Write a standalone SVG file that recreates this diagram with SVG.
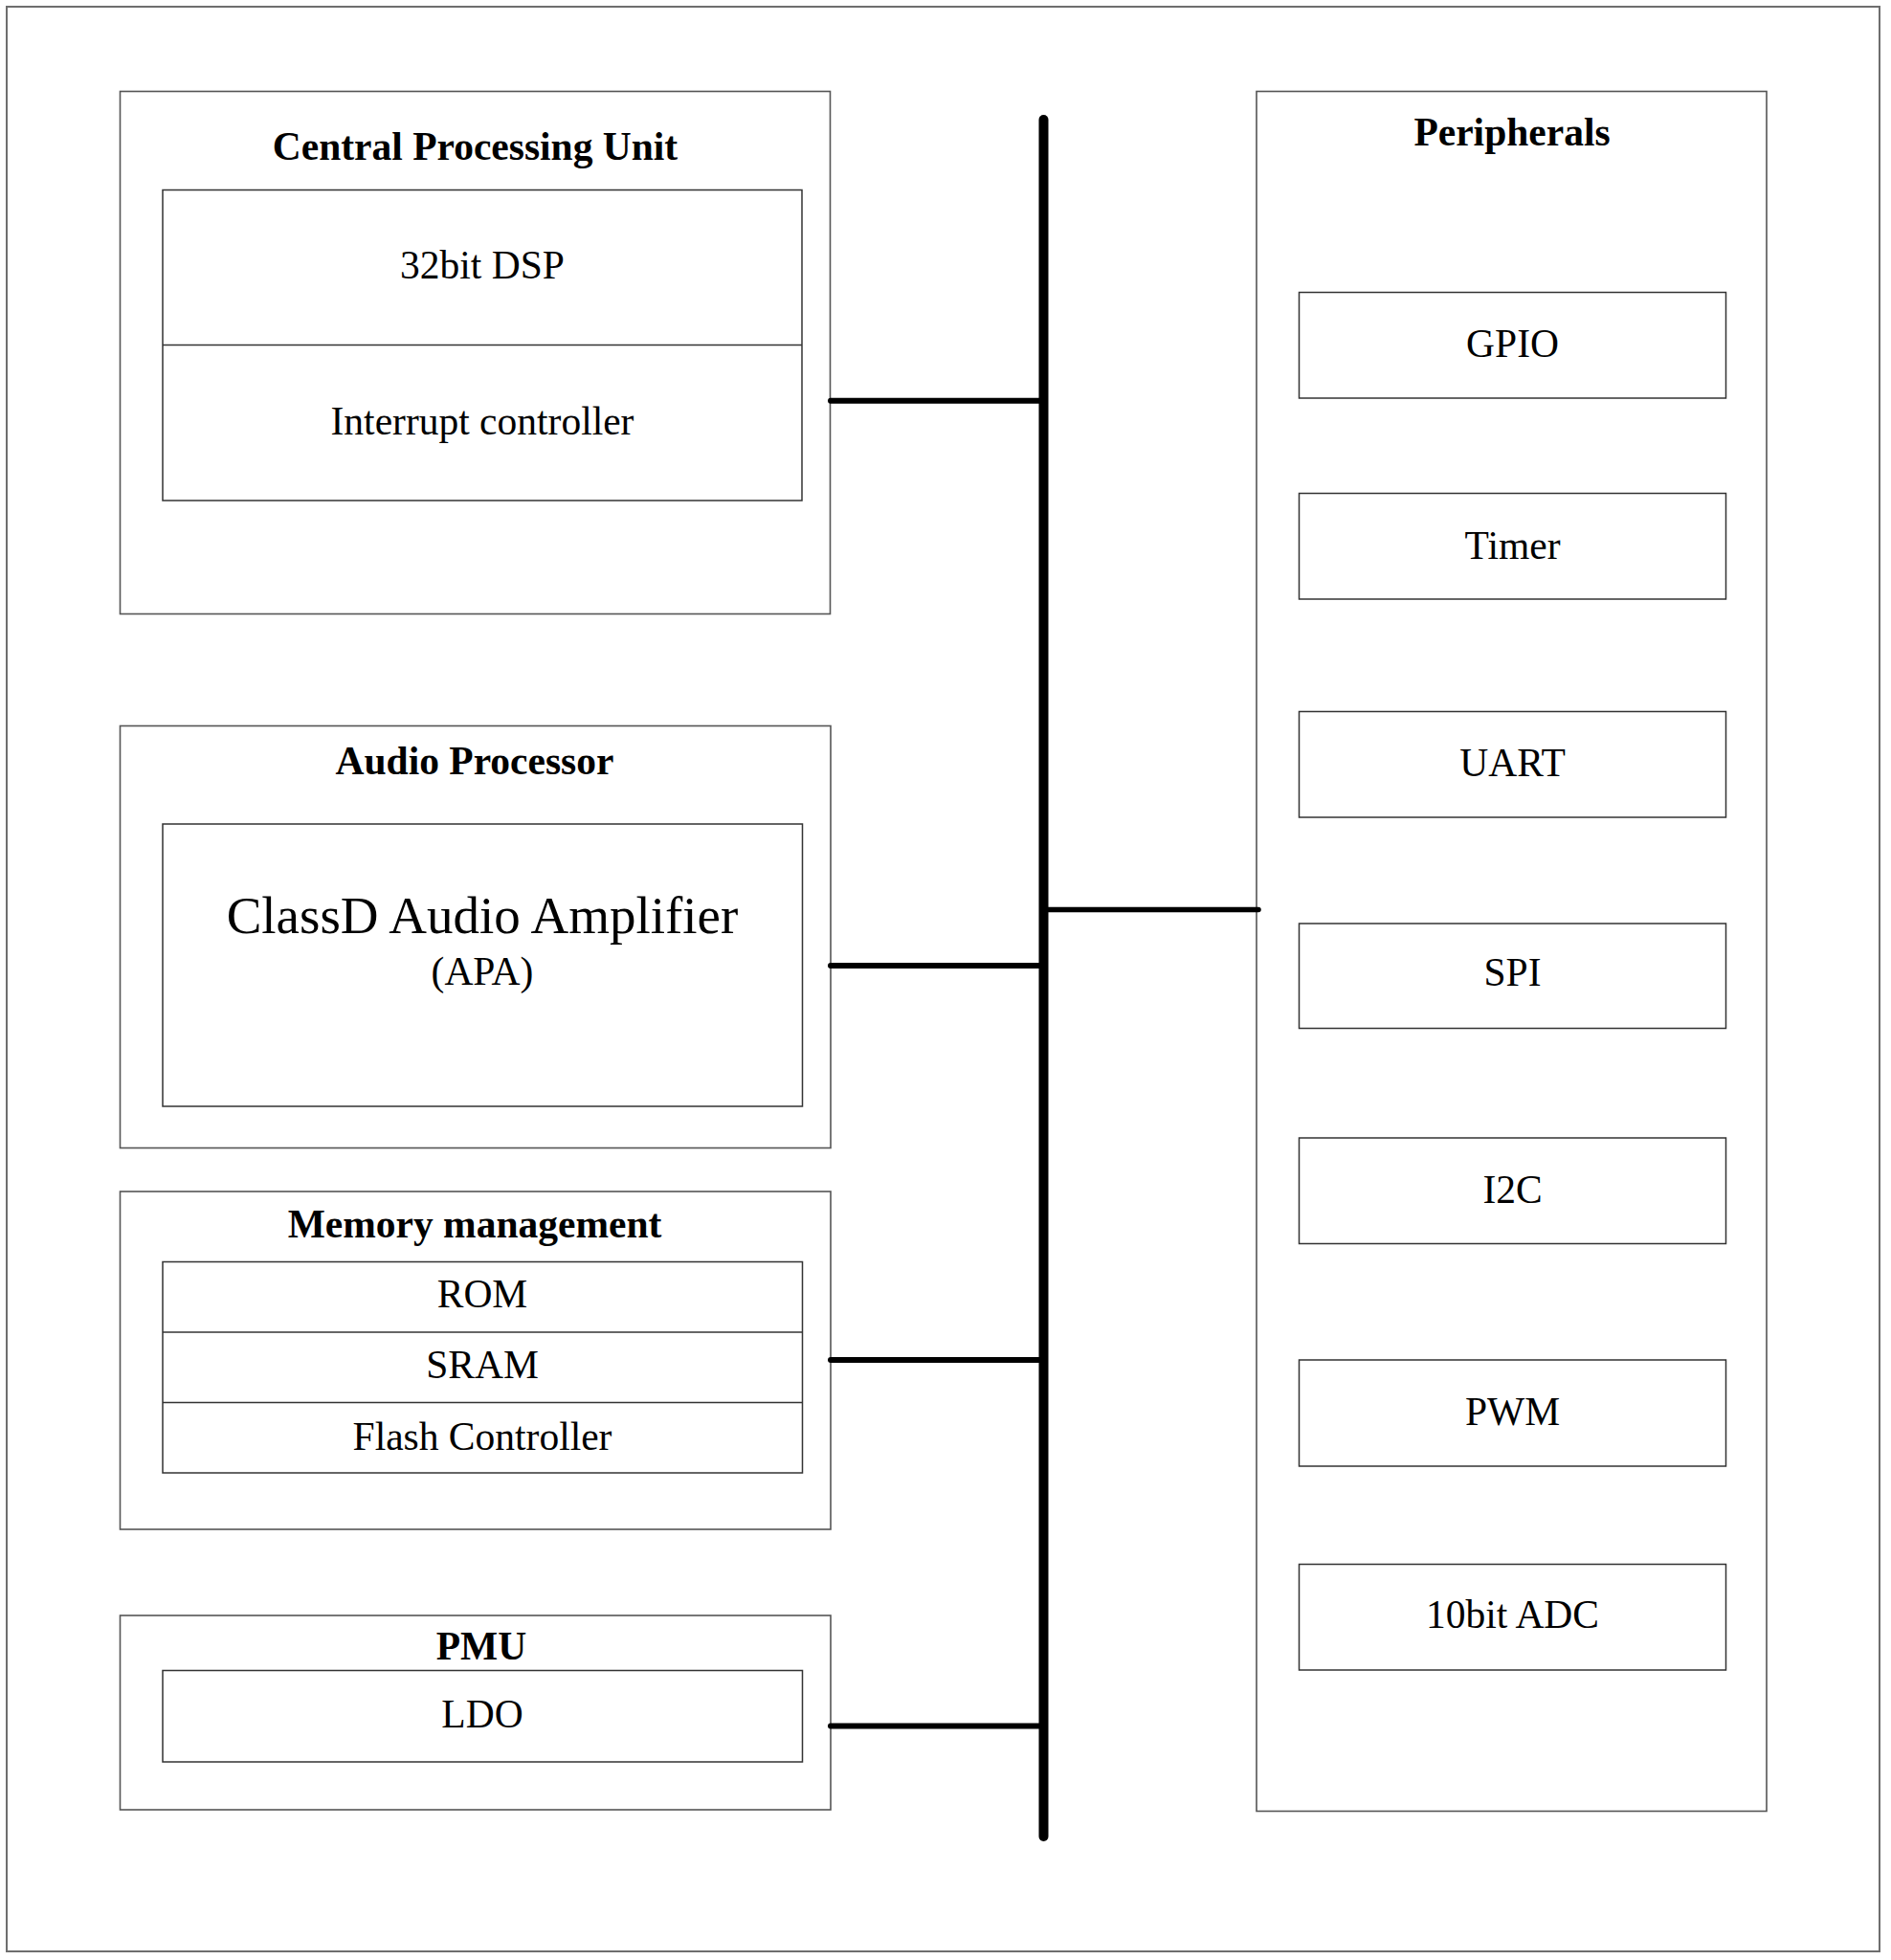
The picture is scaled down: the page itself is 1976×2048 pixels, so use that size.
<svg xmlns="http://www.w3.org/2000/svg" width="1976" height="2048" viewBox="0 0 1976 2048">
<style>
.frame{fill:#fff;stroke:#6e6e6e;stroke-width:2}
.outer{fill:none;stroke:#555;stroke-width:1.6}
.inner{fill:none;stroke:#333;stroke-width:1.5}
.t{font-family:"Liberation Serif","Times New Roman",serif;font-size:41.5px;fill:#000;text-anchor:middle}
.b{font-weight:bold}
.big{font-size:55px}
.bus{stroke:#000;stroke-width:10;stroke-linecap:round;fill:none}
.link{stroke:#000;stroke-width:6;stroke-linecap:round;fill:none}
.link2{stroke:#000;stroke-width:5.5;stroke-linecap:round;fill:none}
</style>
<rect x="0" y="0" width="1976" height="2048" fill="#fff"/>
<rect class="frame" x="7" y="7" width="1957" height="2032"/>

<g id="cpu">
<rect class="outer" x="125.5" y="95.5" width="742" height="546"/>
<text class="t b" x="496.5" y="167">Central Processing Unit</text>
<rect class="inner" x="170" y="198.5" width="668" height="324.5"/>
<line class="inner" x1="170" y1="360.5" x2="838" y2="360.5"/>
<text class="t" x="504" y="291">32bit DSP</text>
<text class="t" x="504" y="454">Interrupt controller</text>
</g>

<g id="audio">
<rect class="outer" x="125.5" y="758.5" width="742.5" height="441"/>
<text class="t b" x="496" y="808.5">Audio Processor</text>
<rect class="inner" x="170" y="861" width="668.5" height="295"/>
<text class="t big" x="504" y="974.5">ClassD Audio Amplifier</text>
<text class="t" x="504" y="1029">(APA)</text>
</g>

<g id="memory">
<rect class="outer" x="125.5" y="1245" width="742.5" height="353"/>
<text class="t b" x="496" y="1293">Memory management</text>
<rect class="inner" x="170" y="1318.5" width="668.5" height="220.5"/>
<line class="inner" x1="170" y1="1392" x2="838.5" y2="1392"/>
<line class="inner" x1="170" y1="1465.5" x2="838.5" y2="1465.5"/>
<text class="t" x="504" y="1366">ROM</text>
<text class="t" x="504" y="1440">SRAM</text>
<text class="t" x="504" y="1514.5">Flash Controller</text>
</g>

<g id="pmu">
<rect class="outer" x="125.5" y="1688" width="742.5" height="203"/>
<text class="t b" x="503" y="1734">PMU</text>
<rect class="inner" x="170" y="1745.5" width="668.5" height="95.5"/>
<text class="t" x="504" y="1804.5">LDO</text>
</g>

<g id="peripherals">
<rect class="outer" x="1313" y="95.5" width="533" height="1797"/>
<text class="t b" x="1580" y="152">Peripherals</text>
</g>
<g id="gpio">
<rect class="inner" x="1357.5" y="305.5" width="446" height="110.5"/>
<text class="t" x="1580.5" y="373">GPIO</text>
</g>
<g id="timer">
<rect class="inner" x="1357.5" y="515.5" width="446" height="110.5"/>
<text class="t" x="1580.5" y="583.5">Timer</text>
</g>
<g id="uart">
<rect class="inner" x="1357.5" y="743.5" width="446" height="110.5"/>
<text class="t" x="1580.5" y="811">UART</text>
</g>
<g id="spi">
<rect class="inner" x="1357.5" y="965" width="446" height="109.5"/>
<text class="t" x="1580.5" y="1029.5">SPI</text>
</g>
<g id="i2c">
<rect class="inner" x="1357.5" y="1189" width="446" height="110.5"/>
<text class="t" x="1580.5" y="1256.5">I2C</text>
</g>
<g id="pwm">
<rect class="inner" x="1357.5" y="1421" width="446" height="111"/>
<text class="t" x="1580.5" y="1489">PWM</text>
</g>
<g id="adc">
<rect class="inner" x="1357.5" y="1634.5" width="446" height="110.5"/>
<text class="t" x="1580.5" y="1701">10bit ADC</text>
</g>

<g id="connectors">
<line class="bus" x1="1090.5" y1="125" x2="1090.5" y2="1919"/>
<line class="link" x1="868" y1="418.7" x2="1090" y2="418.7"/>
<line class="link" x1="868" y1="1009" x2="1090" y2="1009"/>
<line class="link" x1="868" y1="1421" x2="1090" y2="1421"/>
<line class="link" x1="868" y1="1803.5" x2="1090" y2="1803.5"/>
<line class="link2" x1="1090" y1="950.5" x2="1315" y2="950.5"/>
</g>
</svg>
